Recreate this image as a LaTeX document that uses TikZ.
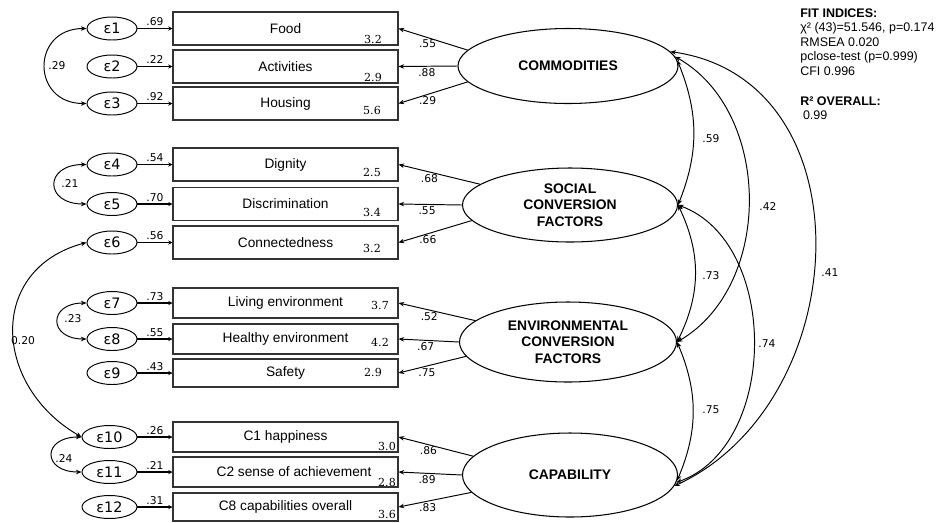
\documentclass[tikz,border=0pt]{standalone}
\usepackage{fontspec}
\setmainfont{Liberation Sans}
\newfontfamily\coeffont{DejaVu Sans}
\newfontfamily\valfont{DejaVu Serif}
\usepackage{tikz}
\usetikzlibrary{shapes.geometric, arrows.meta, positioning}

\begin{document}
\begin{tikzpicture}[
    font=\fontsize{7.8}{9.4}\selectfont,
    >={Stealth[length=3.2pt,width=2.6pt]},
    ind/.style={draw=black!80, line width=0.6pt, minimum width=4.5cm, minimum height=0.66cm, inner sep=0pt},
    err/.style={draw, ellipse, line width=0.55pt, minimum width=1.0cm, minimum height=0.46cm, inner sep=0pt, font=\coeffont\fontsize{8.2}{9}\selectfont},
    lat/.style={draw, ellipse, line width=0.6pt, minimum width=4.4cm, minimum height=1.5cm, inner sep=0pt, align=center, font=\bfseries\fontsize{7.9}{9.4}\selectfont},
    coef/.style={font=\coeffont\fontsize{6.1}{7}\selectfont, inner sep=1pt},
    val/.style={font=\valfont\fontsize{6.3}{7}\selectfont, inner sep=0pt},
    load/.style={->, line width=0.55pt},
    res/.style={-{Stealth[length=2.4pt,width=2.4pt]}, line width=1.1pt},
    cov/.style={<->, line width=0.55pt}
]
\useasboundingbox (0,0) rectangle (18.74,-10.44);

% ── Latent Factors ──
\node[lat] (com) at (11.36,-1.32) {COMMODITIES};
\node[lat, minimum width=4.3cm, minimum height=1.48cm] (soc) at (11.40,-4.10) {SOCIAL\\CONVERSION\\FACTORS};
\node[lat, minimum width=4.34cm, minimum height=1.6cm] (env) at (11.36,-6.84) {ENVIRONMENTAL\\CONVERSION\\FACTORS};
\node[lat, minimum width=4.3cm, minimum height=1.68cm] (cap) at (11.40,-9.50) {CAPABILITY};

% ── Indicators ──
\node[ind] (food) at (5.71,-0.57) {Food};
\node[ind] (act) at (5.71,-1.33) {Activities};
\node[ind] (hous) at (5.71,-2.07) {Housing};
\node[ind] (dign) at (5.71,-3.29) {Dignity};
\node[ind] (disc) at (5.71,-4.08) {Discrimination};
\node[ind] (conn) at (5.71,-4.85) {Connectedness};
\node[ind, minimum height=0.6cm] (live) at (5.71,-6.06) {Living environment};
\node[ind, minimum height=0.6cm] (heal) at (5.71,-6.78) {Healthy environment};
\node[ind, minimum height=0.56cm] (safe) at (5.71,-7.46) {Safety};
\node[ind, minimum height=0.6cm] (hap) at (5.71,-8.74) {C1 happiness};
\node[ind, minimum height=0.6cm] (ach) at (5.71,-9.44) {\hspace*{0.34cm}C2 sense of achievement};
\node[ind, minimum height=0.56cm] (over) at (5.71,-10.14) {C8 capabilities overall};

% ── Indicator Values ──
\node[val] (vfood) at (7.46,-0.78) {3.2};
\node[val] (vact) at (7.46,-1.54) {2.9};
\node[val] (vhous) at (7.44,-2.20) {5.6};
\node[val] (vdign) at (7.44,-3.44) {2.5};
\node[val] (vdisc) at (7.44,-4.24) {3.4};
\node[val] (vconn) at (7.44,-4.96) {3.2};
\node[val] (vlive) at (7.60,-6.10) {3.7};
\node[val] (vheal) at (7.60,-6.84) {4.2};
\node[val] (vsafe) at (7.46,-7.44) {2.9};
\node[val] (vhap) at (7.74,-8.92) {3.0};
\node[val] (vach) at (7.74,-9.64) {2.8};
\node[val] (vover) at (7.74,-10.28) {3.6};

% ── Error Terms ──
\node[err] (e1) at (2.24,-0.57) {ε1};
\node[err] (e2) at (2.24,-1.33) {ε2};
\node[err] (e3) at (2.24,-2.07) {ε3};
\node[err] (e4) at (2.24,-3.29) {ε4};
\node[err] (e5) at (2.24,-4.08) {ε5};
\node[err] (e6) at (2.24,-4.85) {ε6};
\node[err] (e7) at (2.24,-6.06) {ε7};
\node[err] (e8) at (2.24,-6.78) {ε8};
\node[err] (e9) at (2.24,-7.46) {ε9};
\node[err, minimum width=1.1cm] (e10) at (2.19,-8.74) {ε10};
\node[err, minimum width=1.1cm] (e11) at (2.19,-9.44) {ε11};
\node[err, minimum width=1.1cm] (e12) at (2.19,-10.14) {ε12};

% ── Error Paths ──
\draw[res] (e1) -- node[coef, above] (r1) {.69} (food);
\draw[res] (e2) -- node[coef, above] (r2) {.22} (act);
\draw[res] (e3) -- node[coef, above] (r3) {.92} (hous);
\draw[res] (e4) -- node[coef, above] (r4) {.54} (dign);
\draw[res] (e5) -- node[coef, above] (r5) {.70} (disc);
\draw[res] (e6) -- node[coef, above] (r6) {.56} (conn);
\draw[res] (e7) -- node[coef, above] (r7) {.73} (live);
\draw[res] (e8) -- node[coef, above] (r8) {.55} (heal);
\draw[res] (e9) -- node[coef, above] (r9) {.43} (safe);
\draw[res] (e10) -- node[coef, above] (r10) {.26} (hap);
\draw[res] (e11) -- node[coef, above] (r11) {.21} (ach);
\draw[res] (e12) -- node[coef, above] (r12) {.31} (over);

% ── Factor Loadings ──
\draw[load] (com.171) -- node[coef, below, pos=0.58] (l1) {.55} (food.east);
\draw[load] (com.west) -- node[coef, below, pos=0.52] (l2) {.88} (act.east);
\draw[load] (com.189) -- node[coef, below, pos=0.58] (l3) {.29} (hous.east);
\draw[load] (soc.167) -- node[coef, below, pos=0.62] (l4) {.68} (dign.east);
\draw[load] (soc.west) -- node[coef, below, pos=0.55] (l5) {.55} (disc.east);
\draw[load] (soc.189) -- node[coef, below, pos=0.6] (l6) {.66} (conn.east);
\draw[load] (env.167) -- node[coef, below, pos=0.6] (l7) {.52} (live.east);
\draw[load] (env.west) -- node[coef, below, pos=0.55] (l8) {.67} (heal.east);
\draw[load] (env.188) -- node[coef, below, pos=0.58] (l9) {.75} (safe.east);
\draw[load] (cap.169) -- node[coef, below, pos=0.6] (l10) {.86} (hap.east);
\draw[load] (cap.west) -- node[coef, below, pos=0.55] (l11) {.89} (ach.east);
\draw[load] (cap.190) -- node[coef, below, pos=0.6] (l12) {.83} (over.east);

% ── Error Covariances ──
\draw[cov] (e1.west) to[out=180, in=180, looseness=1.9] (e3.west);
\draw[cov] (e4.west) to[out=180, in=180, looseness=2.76] (e5.west);
\draw[cov] (e7.west) to[out=180, in=180, looseness=2.74] (e8.west);
\draw[cov] (e10.west) to[out=180, in=180, looseness=2.9] (e11.west);
\draw[cov] (e6.west) to[out=195, in=150, looseness=1.35] (e10.west);
\node[coef] (c29) at (1.14,-1.32) {.29};
\node[coef] (c21) at (1.40,-3.68) {.21};
\node[coef] (c23) at (1.46,-6.38) {.23};
\node[coef] (c24) at (1.28,-9.18) {.24};
\node[coef] (c20) at (0.46,-6.82) {0.20};

% ── Factor Covariances ──
\draw[cov] (com.3) to[bend left=22] (soc.east);
\draw[cov] (soc.east) to[bend left=26] (env.east);
\draw[cov] (env.east) to[bend left=23] (cap.357);
\draw[cov] (com.5) to[bend left=60] (env.east);
\draw[cov] (soc.east) to[bend left=70] (cap.356);
\draw[cov] (com.8) to[out=-8, in=25, looseness=1.18] (cap.354);
\node[coef] (c59) at (14.22,-2.77) {.59};
\node[coef] (c73) at (14.22,-5.52) {.73};
\node[coef] (c75) at (14.22,-8.20) {.75};
\node[coef] (c42) at (15.36,-4.13) {.42};
\node[coef] (c74) at (15.34,-6.88) {.74};
\node[coef] (c41) at (16.60,-5.45) {.41};

% ── Fit Indices ──
\node[anchor=north west, align=left, inner sep=0pt, font=\fontsize{7.1}{8.2}\selectfont] (fit) at (16.0,-0.17)
    {\textbf{FIT INDICES:}\\χ² (43)=51.546, p=0.174\\RMSEA 0.020\\pclose-test (p=0.999)\\CFI 0.996\\[9pt]\textbf{R² OVERALL:}\\\hspace*{1.5pt}0.99};

\end{tikzpicture}
\end{document}
